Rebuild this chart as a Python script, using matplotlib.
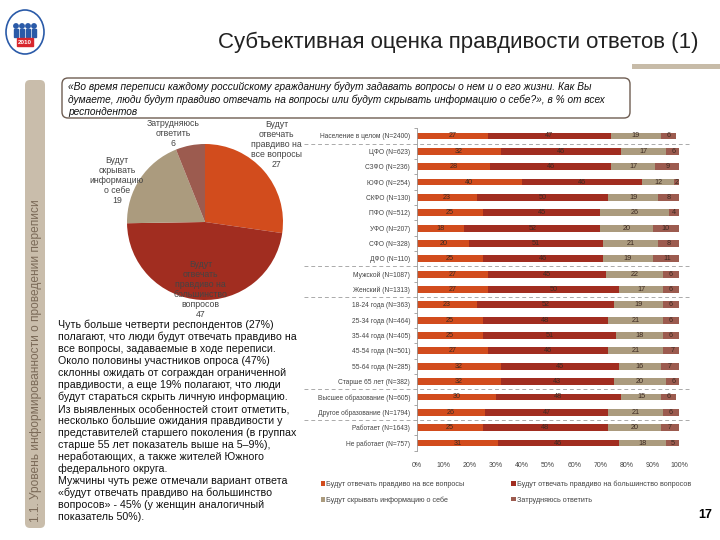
import matplotlib
matplotlib.use("Agg")
import matplotlib.pyplot as plt
from matplotlib.patches import FancyBboxPatch, Rectangle, Ellipse, Circle
import matplotlib.transforms as mtrans

plt.rcParams['font.family'] = ['Liberation Sans', 'DejaVu Sans']

# --- данные ---
TITLE = "Субъективная оценка правдивости ответов (1)"
SIDE = "1.1. Уровень информированности о проведении переписи"
QUOTE = ["«Во время переписи каждому российскому гражданину будут задавать вопросы о нем и о его жизни. Как Вы",
         "думаете, люди будут правдиво отвечать на вопросы или будут скрывать информацию о себе?», в % от всех",
         "респондентов"]

answers = ["Будут отвечать правдиво на все вопросы",
           "Будут отвечать правдиво на большинство вопросов",
           "Будут скрывать информацию о себе",
           "Затрудняюсь ответить"]
colors = ["#d24c1d", "#a12d20", "#ab9b7e", "#9c5b4f"]

pie_vals = [27, 47, 19, 6]
pie_labels = ["Будут\nотвечать\nправдиво на\nвсе вопросы\n27",
              "Будут\nотвечать\nправдиво на\nбольшинство\nвопросов\n47",
              "Будут\nскрывать\nинформацию\nо себе\n19",
              "Затрудняюсь\nответить\n6"]
pie_label_xy = [(0.92, 0.99), (-0.06, -0.87), (-1.13, 0.53), (-0.41, 1.14)]

groups = ["Население в целом (N=2400)",
          "ЦФО (N=623)", "СЗФО (N=236)", "ЮФО (N=254)", "СКФО (N=130)",
          "ПФО (N=512)", "УФО (N=207)", "СФО (N=328)", "ДФО (N=110)",
          "Мужской (N=1087)", "Женский (N=1313)",
          "18-24 года (N=363)", "25-34 года (N=464)", "35-44 года (N=405)",
          "45-54 года (N=501)", "55-64 года (N=285)", "Старше 65 лет (N=382)",
          "Высшее образование (N=605)", "Другое образование (N=1794)",
          "Работает (N=1643)", "Не работает (N=757)"]
all_q  = [27, 32, 28, 40, 23, 25, 18, 20, 25, 27, 27, 23, 25, 25, 27, 32, 32, 30, 26, 25, 31]
most_q = [47, 46, 46, 46, 50, 45, 52, 51, 46, 45, 50, 52, 48, 51, 46, 45, 43, 48, 47, 48, 46]
hide   = [19, 17, 17, 12, 19, 26, 20, 21, 19, 22, 17, 19, 21, 18, 21, 16, 20, 15, 21, 20, 18]
hard   = [6, 6, 9, 2, 8, 4, 10, 8, 11, 6, 6, 6, 6, 6, 7, 7, 6, 6, 6, 7, 5]
# после каких строк идут пунктирные разделители
breaks = [0, 8, 10, 16, 18]

TEXT = ["Чуть больше четверти респондентов (27%)",
        "полагают, что люди будут отвечать правдиво на",
        "все вопросы, задаваемые в ходе переписи.",
        "Около половины участников опроса (47%)",
        "склонны ожидать от сограждан ограниченной",
        "правдивости, а еще 19% полагают, что люди",
        "будут стараться скрыть личную информацию.",
        "Из выявленных особенностей стоит отметить,",
        "несколько большие ожидания правдивости у",
        "представителей старшего поколения (в группах",
        "старше 55 лет показатель выше на 5–9%),",
        "неработающих, а также жителей Южного",
        "федерального округа.",
        "Мужчины чуть реже отмечали вариант ответа",
        "«будут отвечать правдиво на большинство",
        "вопросов» - 45% (у женщин аналогичный",
        "показатель 50%)."]
PAGE = "17"

W, H = 720, 540
fig = plt.figure(figsize=(W/100, H/100), dpi=100)

# фон/оформление в пиксельных координатах
bg = fig.add_axes([0, 0, 1, 1])
bg.set_xlim(0, W); bg.set_ylim(H, 0); bg.axis("off")

# логотип
bg.add_patch(Ellipse((25, 32), 38, 44, fill=False, ec="#2a5aa8", lw=1.2))
for i, dx in enumerate([-9, -3, 3, 9]):
    bg.add_patch(Circle((25+dx, 26), 2.2, color="#2a5aa8"))
    bg.add_patch(Rectangle((25+dx-1.8, 29), 3.6, 8, color="#2a5aa8"))
bg.add_patch(Rectangle((17, 38), 16, 8, color="#d8262d"))
bg.text(25, 42.5, "2010", color="white", fontsize=4.5, ha="center", va="center", weight="bold")

bg.text(458, 42, TITLE, fontsize=16, ha="center", va="center", color="#222222")
bg.add_patch(Rectangle((632, 64), 88, 5, color="#c7bba8", lw=0))

# боковая полоса
bg.add_patch(FancyBboxPatch((25, 80), 20, 448, boxstyle="round,pad=0,rounding_size=5",
                            fc="#c9bdab", ec="none"))
bg.text(36, 522, SIDE, rotation=90, fontsize=8.6, ha="center", va="bottom", color="#7b6a58")

# рамка с вопросом
bg.add_patch(FancyBboxPatch((62, 78), 568, 40, boxstyle="round,pad=0,rounding_size=6",
                            fc="white", ec="#6e5d52", lw=1.0))
for i, s in enumerate(QUOTE):
    bg.text(68, 87 + i*12.5, s, fontsize=7.3, style="italic", va="center", color="#111111")

for i, s in enumerate(TEXT):
    bg.text(58, 325 + i*12, s, fontsize=7.7, va="center", color="#111111")

bg.text(712, 515, PAGE, fontsize=9, weight="bold", ha="right", va="center")

# круговая диаграмма
cx, cy, r = 205, 222, 78
pax = fig.add_axes([(cx-r)/W, 1-(cy+r)/H, 2*r/W, 2*r/H])
pax.pie(pie_vals, colors=colors, startangle=90, counterclock=False, radius=1,
        wedgeprops=dict(lw=0))
pax.set_xlim(-1, 1); pax.set_ylim(-1, 1)
for lab, (x, y) in zip(pie_labels, pie_label_xy):
    pax.text(x, y, lab, fontsize=6.3, ha="center", va="center", color="#444444",
             linespacing=1.15, clip_on=False)

# столбчатая диаграмма
top, bot = 128.3, 450.7
ax = fig.add_axes([417/W, 1-bot/H, 262/W, (bot-top)/H])
n = len(groups)
ypos = list(range(n))
left = [0]*n
series = [all_q, most_q, hide, hard]
for vals, col, lab in zip(series, colors, answers):
    ax.barh(ypos, vals, left=left, height=0.45, color=col, label=lab, lw=0)
    for y, v, l in zip(ypos, vals, left):
        ax.text(l + v/2, y, str(v), fontsize=5.2, ha="center", va="center", color="#3d2a22")
    left = [a+b for a, b in zip(left, vals)]

ax.set_ylim(n-0.5, -0.5)
ax.set_xlim(0, 100)
ax.set_yticks(ypos)
ax.set_yticklabels(groups, fontsize=4.8, color="#444444")
ax.set_xticks(range(0, 101, 10))
ax.set_xticklabels([f"{t}%" for t in range(0, 101, 10)], fontsize=5.0, color="#444444")
ax.tick_params(axis="y", length=0, pad=5)
ax.tick_params(axis="x", length=0, pad=8)
ax.set_yticks([i+0.5 for i in range(-1, n)], minor=True)
ax.tick_params(axis="y", which="minor", length=2, color="#999999")
for s in ["top", "right", "bottom"]:
    ax.spines[s].set_visible(False)
ax.spines["left"].set_color("#999999")
ax.spines["left"].set_linewidth(0.6)

tr = mtrans.blended_transform_factory(ax.transAxes, ax.transData)
for b in breaks:
    ax.plot([-0.43, 1.045], [b+0.5, b+0.5], transform=tr, clip_on=False,
            ls=(0, (4, 3)), color="#aaaaaa", lw=0.7)

h, l = ax.get_legend_handles_labels()
order = [0, 2, 1, 3]
fig.legend([h[i] for i in order], [l[i] for i in order], ncol=2, loc="upper left",
           bbox_to_anchor=(314/W, 1-474/H), frameon=False, fontsize=5.2,
           handlelength=0.6, handleheight=0.6, handletextpad=0.2,
           columnspacing=6.5, labelspacing=1.2, labelcolor="#444444")

fig.savefig("out.png", dpi=100)
